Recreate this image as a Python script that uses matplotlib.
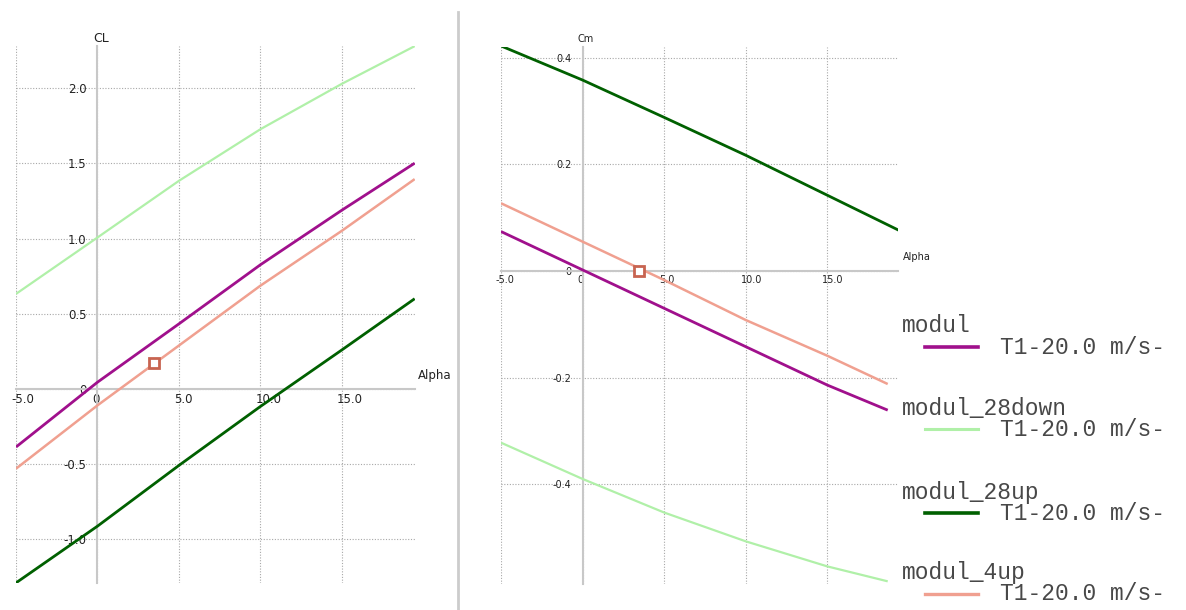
import matplotlib
matplotlib.use('Agg')
import matplotlib.pyplot as plt
from matplotlib.lines import Line2D
import matplotlib.transforms as mtransforms

# ---------------- data ----------------
alpha_cl = [-5.0, 0.0, 5.0, 10.0, 15.0, 19.46]
alpha_cm = [-5.0, 0.0, 5.0, 10.0, 15.0, 18.7]
alpha_cm_28up = [-5.0, 0.0, 5.0, 10.0, 15.0, 19.4]

series_names = ['modul', 'modul_28down', 'modul_28up', 'modul_4up']
series_sub = 'T1-20.0 m/s-'
series_colors = ['#a0108c', '#b0f0a8', '#006000', '#f0a090']
series_widths = [2.0, 1.6, 2.0, 1.8]

cl_modul = [-0.386, 0.045, 0.433, 0.826, 1.189, 1.501]
cl_28down = [0.632, 1.007, 1.384, 1.727, 2.029, 2.279]
cl_28up = [-1.289, -0.912, -0.508, -0.116, 0.260, 0.600]
cl_4up = [-0.530, -0.109, 0.289, 0.687, 1.052, 1.395]

cm_modul = [0.074, 0.002, -0.070, -0.142, -0.214, -0.261]
cm_28down = [-0.322, -0.390, -0.453, -0.507, -0.554, -0.582]
cm_28up = [0.422, 0.358, 0.288, 0.217, 0.142, 0.076]
cm_4up = [0.127, 0.055, -0.017, -0.092, -0.159, -0.212]

op_alpha = 3.45
op_cl = 0.171
op_cm = 0.0

x_ticks = [-5, 0, 5, 10, 15]
x_ticklabels = ['-5.0', '0', '5.0', '10.0', '15.0']
cl_yticks = [-1.0, -0.5, 0.0, 0.5, 1.0, 1.5, 2.0]
cl_yticklabels = ['-1.0', '-0.5', '0', '0.5', '1.0', '1.5', '2.0']
cm_yticks = [-0.4, -0.2, 0.0, 0.2, 0.4]
cm_yticklabels = ['-0.4', '-0.2', '0', '0.2', '0.4']

# ---------------- figure ----------------
W, H = 1186, 610
fig = plt.figure(figsize=(W / 100, H / 100), dpi=100)
fig.patch.set_facecolor('white')


def px_axes(x0, y0, x1, y1):
    return fig.add_axes([x0 / W, 1 - y1 / H, (x1 - x0) / W, (y1 - y0) / H])


def style(ax, xlim, ylim, xticks, xlabels, yticks, ylabels, fs, xoff):
    ax.set_xlim(*xlim)
    ax.set_ylim(*ylim)
    ax.patch.set_alpha(0)
    for s in ['top', 'right']:
        ax.spines[s].set_visible(False)
    for s in ['left', 'bottom']:
        ax.spines[s].set_position(('data', 0))
        ax.spines[s].set_color('#c8c8c8')
        ax.spines[s].set_linewidth(1.5)
        ax.spines[s].set_zorder(1.5)
    ax.set_xticks(xticks)
    ax.set_xticklabels(xlabels)
    ax.set_yticks(yticks)
    ax.set_yticklabels(ylabels)
    ax.tick_params(axis='both', length=0, labelsize=fs, colors='#222222')
    ax.tick_params(axis='x', pad=3)
    ax.tick_params(axis='y', pad=8)
    ax.grid(True, linestyle=(0, (1, 1.5)), color='#a8a8a8', linewidth=0.8)
    ax.set_axisbelow(True)
    off = mtransforms.ScaledTranslation(xoff / 100, 0, fig.dpi_scale_trans)
    for lab in ax.get_xticklabels():
        lab.set_ha('left')
        lab.set_transform(lab.get_transform() + off)


# left panel (CL)
ax1 = px_axes(16, 46, 415, 583)
style(ax1, (-5, 19.48), (-1.29, 2.28), x_ticks, x_ticklabels,
      cl_yticks, cl_yticklabels, 8.5, -5)
for vals, c, lw in zip([cl_modul, cl_28down, cl_28up, cl_4up], series_colors, series_widths):
    ax1.plot(alpha_cl, vals, color=c, lw=lw, solid_capstyle='butt', zorder=3)
ax1.plot([op_alpha], [op_cl], marker='s', ms=7, mfc='white', mec='#c86450', mew=2, zorder=4)

# right panel (Cm)
ax2 = px_axes(501, 47, 898, 584)
style(ax2, (-5, 19.33), (-0.587, 0.42), x_ticks, x_ticklabels,
      cm_yticks, cm_yticklabels, 7, -5)
cm_series = [(alpha_cm, cm_modul), (alpha_cm, cm_28down),
             (alpha_cm_28up, cm_28up), (alpha_cm, cm_4up)]
for (xs, vals), c, lw in zip(cm_series, series_colors, series_widths):
    ax2.plot(xs, vals, color=c, lw=lw, solid_capstyle='butt', zorder=3)
ax2.plot([op_alpha], [op_cm], marker='s', ms=7, mfc='white', mec='#c86450', mew=2, zorder=4)

# axis titles
fig.text(93 / W, 1 - 39 / H, 'CL', fontsize=9, color='#222222', va='center', ha='left')
fig.text(418 / W, 1 - 376 / H, 'Alpha', fontsize=8.5, color='#222222', va='center', ha='left')
fig.text(578 / W, 1 - 39 / H, 'Cm', fontsize=7, color='#222222', va='center', ha='left')
fig.text(903 / W, 1 - 257 / H, 'Alpha', fontsize=7, color='#222222', va='center', ha='left')

# separator
fig.add_artist(Line2D([458 / W, 458 / W], [0, 1 - 12 / H], color='#cccccc', lw=2))

# legend
name_y = [326, 408, 492, 573]
for i, (nm, c, lw) in enumerate(zip(series_names, series_colors, series_widths)):
    y0 = name_y[i]
    fig.text(902 / W, 1 - y0 / H, nm, family='Liberation Mono', fontsize=16.5,
             color='#484848', va='center', ha='left')
    ly = y0 + 21
    fig.add_artist(Line2D([925 / W, 978 / W], [1 - ly / H, 1 - ly / H], color=c, lw=lw + 0.6))
    fig.text(1000 / W, 1 - ly / H, series_sub, family='Liberation Mono', fontsize=16.5,
             color='#484848', va='center', ha='left')

fig.savefig('out.png', dpi=100)
